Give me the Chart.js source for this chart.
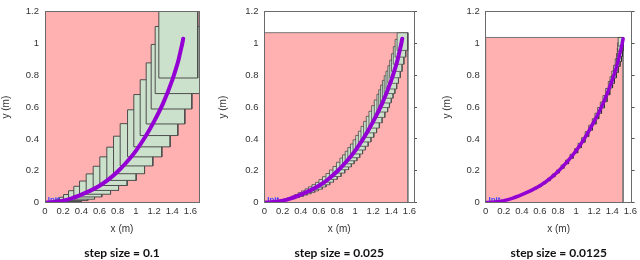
<!DOCTYPE html>
<html>
<head>
<meta charset="utf-8">
<script src="https://cdn.jsdelivr.net/npm/chart.js@4.4.1/dist/chart.umd.min.js"></script>
<style>
  body { margin: 0; background: #fff; }
  .panel { position: absolute; top: 0; }
</style>
</head>
<body>
<div class="panel" style="left:0px"><canvas id="c1" width="210" height="260"></canvas></div>
<div class="panel" style="left:210px"><canvas id="c2" width="215" height="260"></canvas></div>
<div class="panel" style="left:425px"><canvas id="c3" width="215" height="260"></canvas></div>
<script>
// tick labels
const xTicks = [0, 0.2, 0.4, 0.6, 0.8, 1, 1.2, 1.4, 1.6]
const yTicks = [0, 0.2, 0.4, 0.6, 0.8, 1, 1.2]
const stepLabels = ['step size = 0.1', 'step size = 0.025', 'step size = 0.0125']

// trajectory (same in every panel)
const curveX = [0, 0.1, 0.2, 0.3, 0.4, 0.5, 0.6, 0.7, 0.8, 0.9, 1.0, 1.1, 1.2, 1.3, 1.4, 1.44, 1.47, 1.49, 1.51, 1.52]
const curveY = [0, 0.003, 0.012, 0.028, 0.05, 0.075, 0.105, 0.145, 0.195, 0.255, 0.325, 0.41, 0.51, 0.625, 0.77, 0.84, 0.90, 0.95, 1.00, 1.03]

// bounding (pink) box of each panel
const hullRight = [1.8, 1.582, 1.52]
const hullTop = [1.3, 1.068, 1.038]

// panel 1 boxes, drawn in this order
const p1Left   = [0.02, 0.07, 0.116, 0.160, 0.204, 0.259, 0.317, 0.380, 0.453, 0.530, 0.603, 0.680, 0.754, 0.827, 0.908, 0.977, 1.047, 1.113, 1.168, 1.212, 1.252]
const p1Right  = [0.12, 0.20, 0.26, 0.33, 0.40, 0.471, 0.545, 0.625, 0.721, 0.809, 0.904, 1.003, 1.095, 1.186, 1.285, 1.377, 1.461, 1.538, 1.615, 1.70, 1.68]
const p1Bottom = [0, 0, 0, 0.002, 0.006, 0.012, 0.021, 0.035, 0.052, 0.076, 0.107, 0.139, 0.181, 0.230, 0.287, 0.350, 0.421, 0.494, 0.588, 0.685, 0.783]
const p1Top    = [0.005, 0.01, 0.020, 0.033, 0.050, 0.074, 0.102, 0.135, 0.180, 0.228, 0.287, 0.348, 0.417, 0.496, 0.583, 0.679, 0.772, 0.878, 0.994, 1.107, 1.25]

// panel 2 boxes: centre and size
const p2X = [0.08, 0.12, 0.16, 0.20, 0.24, 0.28, 0.32, 0.36, 0.40, 0.44, 0.48, 0.52, 0.56, 0.60, 0.64, 0.68, 0.72, 0.76, 0.80, 0.84, 0.88, 0.91, 0.94, 0.97, 1.00, 1.03, 1.06, 1.09, 1.12, 1.15, 1.18, 1.21, 1.24, 1.27, 1.30, 1.32, 1.34, 1.36, 1.38, 1.40, 1.42, 1.44, 1.46, 1.48, 1.50, 1.522]
const p2Y = [0.002, 0.004, 0.008, 0.012, 0.018, 0.025, 0.032, 0.041, 0.050, 0.060, 0.070, 0.081, 0.093, 0.105, 0.121, 0.137, 0.155, 0.175, 0.195, 0.219, 0.243, 0.262, 0.283, 0.304, 0.325, 0.350, 0.376, 0.401, 0.430, 0.460, 0.490, 0.521, 0.555, 0.590, 0.625, 0.653, 0.682, 0.712, 0.741, 0.770, 0.805, 0.840, 0.880, 0.925, 0.970, 1.012]
const p2W = [0.028, 0.031, 0.034, 0.037, 0.042, 0.047, 0.050, 0.053, 0.058, 0.062, 0.066, 0.069, 0.072, 0.075, 0.078, 0.080, 0.083, 0.086, 0.089, 0.092, 0.095, 0.097, 0.099, 0.101, 0.103, 0.105, 0.107, 0.108, 0.110, 0.112, 0.114, 0.115, 0.116, 0.117, 0.118, 0.118, 0.118, 0.118, 0.118, 0.118, 0.117, 0.117, 0.117, 0.117, 0.117, 0.117]
const p2H = [0.003, 0.004, 0.005, 0.007, 0.009, 0.012, 0.015, 0.019, 0.024, 0.027, 0.031, 0.035, 0.039, 0.043, 0.047, 0.051, 0.055, 0.059, 0.063, 0.068, 0.073, 0.076, 0.079, 0.083, 0.086, 0.089, 0.092, 0.095, 0.098, 0.101, 0.104, 0.106, 0.108, 0.110, 0.112, 0.112, 0.112, 0.112, 0.112, 0.112, 0.111, 0.111, 0.111, 0.111, 0.111, 0.111]

// panel 3 boxes: centre and size
const p3X = [0.10, 0.15, 0.20, 0.25, 0.30, 0.35, 0.40, 0.45, 0.50, 0.55, 0.60, 0.65, 0.70, 0.75, 0.80, 0.85, 0.90, 0.95, 1.00, 1.04, 1.08, 1.12, 1.16, 1.20, 1.23, 1.26, 1.29, 1.32, 1.35, 1.38, 1.40, 1.42, 1.44, 1.46, 1.475, 1.485, 1.49, 1.493]
const p3Y = [0.003, 0.007, 0.012, 0.019, 0.028, 0.038, 0.050, 0.062, 0.075, 0.090, 0.105, 0.124, 0.145, 0.170, 0.195, 0.225, 0.255, 0.290, 0.325, 0.358, 0.393, 0.430, 0.470, 0.510, 0.544, 0.579, 0.613, 0.653, 0.697, 0.741, 0.770, 0.805, 0.840, 0.880, 0.912, 0.945, 0.978, 1.011]
const p3W = [0.015, 0.017, 0.019, 0.020, 0.021, 0.022, 0.023, 0.024, 0.025, 0.026, 0.027, 0.028, 0.029, 0.030, 0.031, 0.032, 0.034, 0.035, 0.036, 0.037, 0.038, 0.039, 0.040, 0.041, 0.042, 0.043, 0.044, 0.045, 0.046, 0.047, 0.048, 0.050, 0.051, 0.053, 0.055, 0.057, 0.058, 0.055]
const p3H = [0.002, 0.003, 0.003, 0.004, 0.005, 0.006, 0.007, 0.009, 0.010, 0.011, 0.013, 0.014, 0.016, 0.018, 0.019, 0.021, 0.023, 0.025, 0.027, 0.028, 0.029, 0.031, 0.032, 0.034, 0.035, 0.037, 0.038, 0.039, 0.040, 0.041, 0.042, 0.044, 0.046, 0.048, 0.050, 0.052, 0.054, 0.054]

const PINK = '#ffb1b1'
const GREEN = '#cce1cc'
const PURPLE = '#9400d3'
const FRAME = '#6a6a6a'

Chart.defaults.font.family = '"Liberation Sans", Arial, sans-serif'
Chart.defaults.color = '#333'

// one box = a filled top edge (filled down to the bottom) + a closed outline
function boxDatasets(l, r, b, t, fillColor, lineColor, lineWidth) {
  return [
    {
      data: [{x: l, y: t}, {x: r, y: t}],
      fill: {target: {value: b}},
      backgroundColor: fillColor,
      borderColor: 'rgba(0,0,0,0)',
      borderWidth: 0,
      pointRadius: 0,
      tension: 0
    },
    {
      data: [{x: l, y: b}, {x: l, y: t}, {x: r, y: t}, {x: r, y: b}, {x: l, y: b}],
      fill: false,
      borderColor: lineColor,
      borderWidth: lineWidth,
      pointRadius: 0,
      tension: 0
    }
  ]
}

const labelPlugin = {
  id: 'panelText',
  beforeDatasetDraw(chart, args) {
    if (args.index !== chart.data.datasets.length - 1) return
    const ctx = chart.ctx
    const sx = chart.scales.x, sy = chart.scales.y
    ctx.save()
    ctx.font = 'bold 8px "Liberation Sans", Arial, sans-serif'
    ctx.fillStyle = '#4444ff'
    ctx.textAlign = 'left'
    ctx.textBaseline = 'alphabetic'
    ctx.fillText('Init', sx.getPixelForValue(0.03), sy.getPixelForValue(0) - 1)
    ctx.restore()
  },
  afterDraw(chart, args, opts) {
    const ctx = chart.ctx
    const area = chart.chartArea
    ctx.save()
    ctx.font = 'bold 12px Lato, "Open Sans", sans-serif'
    ctx.fillStyle = '#111'
    ctx.textAlign = 'center'
    ctx.textBaseline = 'middle'
    ctx.fillText(opts.text, (area.left + area.right) / 2, 253)
    ctx.restore()
  }
}

function makePanel(id, p) {
  const list = []
  list.push(...boxDatasets(0, hullRight[p.n], 0, hullTop[p.n], PINK, '#777', 1))
  for (const bx of p.boxes) {
    list.push(...boxDatasets(bx[0], bx[1], bx[2], bx[3], GREEN, p.boxLine, p.boxLineWidth))
  }
  list.push({
    data: curveX.map((x, i) => ({x: x, y: curveY[i]})),
    fill: false,
    borderColor: PURPLE,
    borderWidth: p.curveWidth,
    borderCapStyle: 'round',
    pointRadius: 0,
    cubicInterpolationMode: 'monotone'
  })
  list.forEach((d, i) => { d.order = list.length - i })

  const tickFont = {size: 9.5}
  const setX = s => { s.ticks = xTicks.map(v => ({value: v})) }
  const setY = s => { s.ticks = yTicks.map(v => ({value: v})) }

  new Chart(document.getElementById(id), {
    type: 'line',
    data: {datasets: list},
    plugins: [labelPlugin],
    options: {
      responsive: false,
      animation: false,
      events: [],
      layout: {padding: {left: 0, right: p.padRight, top: 5, bottom: 0}},
      plugins: {
        legend: {display: false},
        tooltip: {enabled: false},
        panelText: {text: stepLabels[p.n]}
      },
      scales: {
        x: {
          type: 'linear', min: 0, max: p.xMax,
          afterBuildTicks: setX,
          ticks: {callback: v => String(v), padding: 3, maxRotation: 0, autoSkip: false, font: tickFont},
          grid: {display: false, drawTicks: false},
          border: {color: FRAME, z: 1},
          title: {display: true, text: 'x (m)', font: {size: 10}, padding: {top: 0, bottom: 25}},
          afterFit: s => { s.height = 57.5 }
        },
        x2: {
          type: 'linear', position: 'top', min: 0, max: p.xMax,
          ticks: {display: false},
          grid: {display: false, drawTicks: false},
          border: {color: FRAME, z: 1},
          afterFit: s => { s.height = 0 }
        },
        y: {
          type: 'linear', min: 0, max: 1.2,
          afterBuildTicks: setY,
          ticks: {callback: v => String(v), padding: 6, font: tickFont},
          grid: {display: false, drawTicks: false},
          border: {color: FRAME, z: 1},
          title: {display: true, text: 'y (m)', font: {size: 10}, padding: {top: p.yTitlePad, bottom: 0}},
          afterFit: s => { s.width = p.yWidth }
        },
        y2: {
          type: 'linear', position: 'right', min: 0, max: 1.2,
          afterBuildTicks: setY,
          ticks: {display: false},
          grid: {display: p.rightTicks, drawOnChartArea: false, drawTicks: true, tickLength: 3, color: '#555'},
          border: {color: FRAME, z: 1},
          afterFit: s => { s.width = p.rightTicks ? 4 : 0 }
        }
      }
    }
  })
}

const boxes1 = p1Left.map((l, i) => [l, p1Right[i], p1Bottom[i], p1Top[i]])
const boxes2 = p2X.map((x, i) => [x - p2W[i] / 2, x + p2W[i] / 2, p2Y[i] - p2H[i] / 2, p2Y[i] + p2H[i] / 2])
const boxes3 = p3X.map((x, i) => [x - p3W[i] / 2, x + p3W[i] / 2, p3Y[i] - p3H[i] / 2, p3Y[i] + p3H[i] / 2])

makePanel('c1', {n: 0, boxes: boxes1, xMax: 1.694, yWidth: 45, yTitlePad: 0.7, padRight: 11, rightTicks: false, boxLine: '#4d4d4d', boxLineWidth: 1, curveWidth: 4})
makePanel('c2', {n: 1, boxes: boxes2, xMax: 1.65, yWidth: 54.5, yTitlePad: 7, padRight: 7, rightTicks: true, boxLine: '#4d4d4d', boxLineWidth: 0.8, curveWidth: 4})
makePanel('c3', {n: 2, boxes: boxes3, xMax: 1.614, yWidth: 60.7, yTitlePad: 16, padRight: 2.5, rightTicks: true, boxLine: '#2a2a2a', boxLineWidth: 0.7, curveWidth: 3.5})
</script>
</body>
</html>
